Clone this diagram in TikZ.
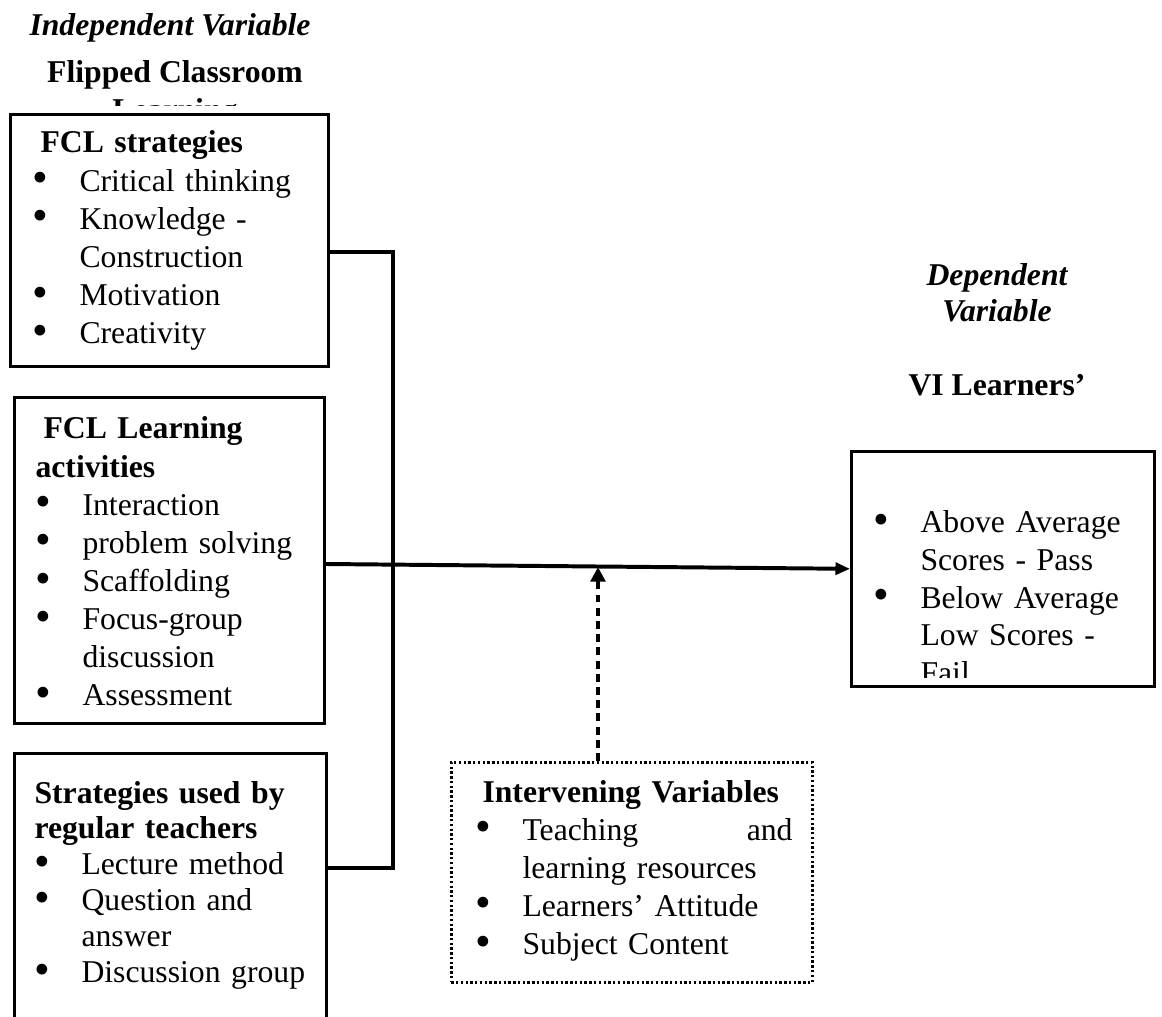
\documentclass[tikz,border=0pt]{standalone}
\usepackage{fontspec}
\setmainfont{Liberation Serif}
\usetikzlibrary{arrows.meta}
\newlength{\pxl}
\setlength{\pxl}{0.3785pt}
\newcommand{\bul}{\makebox[47\pxl][l]{\smash{\raisebox{-0.7pt}{\fontsize{17}{0}\selectfont\textbullet}}}}
\newcommand{\cont}{\hspace*{47\pxl}}

\begin{document}
\begin{tikzpicture}[
  x=0.3785pt, y=-0.3785pt,
  frame/.style={draw, line width=1pt, fill=white, inner sep=0pt, anchor=north west},
  dotframe/.style={frame, dash pattern=on 0.9pt off 0.9pt},
  txt/.style={inner sep=0pt, anchor=base west, align=left, font=\fontsize{12}{14.4}\selectfont},
  head/.style={inner sep=0pt, anchor=base, font=\fontsize{12}{14.4}\selectfont\bfseries},
  headit/.style={inner sep=0pt, anchor=base, font=\fontsize{12}{13.3}\selectfont\bfseries\itshape},
  link/.style={line width=1.5pt},
  modarrow/.style={line width=1.5pt, dash pattern=on 3pt off 2pt, -{Triangle[length=5.5pt,width=5.5pt]}}
]
\useasboundingbox (0,0) rectangle (1162,1017);

% headings
\node[headit] (ivar) at (170,36) {Independent Variable};
\node[head] (fclhead) at (175,83) {Flipped Classroom};
\begin{scope}
  \clip (0,90) rectangle (400,106);
  \node[head] (fclhead2) at (175,121) {Learning};
\end{scope}
\node[headit, align=center, text width=200\pxl] (dvar) at (997,286) {Dependent\\Variable};
\node[head] (vil) at (997,395) {VI Learners’};

% boxes
\node[frame, minimum width=318\pxl, minimum height=252\pxl] (fcl) at (9,113) {};
\node[frame, minimum width=310\pxl, minimum height=326\pxl] (act) at (13,396) {};
\node[frame, minimum width=312\pxl, minimum height=290\pxl] (reg) at (13,752) {};
\node[dotframe, minimum width=361\pxl, minimum height=220\pxl] (interv) at (450,761) {};
\node[frame, minimum width=303\pxl, minimum height=235\pxl] (dep) at (850,450) {};

\node[txt, text width=290\pxl] (fcltxt) at (32,153) {\hspace*{8\pxl}\textbf{FCL strategies}\\
  \bul Critical thinking\\
  \bul Knowledge -\\
  \cont Construction\\
  \bul Motivation\\
  \bul Creativity};

\node[txt, text width=285\pxl] (acttxt) at (35,439) {\hspace*{8\pxl}\textbf{FCL Learning}\\
  \textbf{activities}\\
  \bul Interaction\\
  \bul problem solving\\
  \bul Scaffolding\\
  \bul Focus-group\\
  \cont discussion\\
  \bul Assessment};

\node[txt, text width=285\pxl, font=\fontsize{12}{13.6}\selectfont] (regtxt) at (34,803) {\textbf{Strategies used by}\\
  \textbf{regular teachers}\\
  \bul Lecture method\\
  \bul Question and\\
  \cont answer\\
  \bul Discussion group};

\node[txt, text width=330\pxl] (intervtxt) at (475,802) {\hspace*{7\pxl}\textbf{Intervening Variables}\\
  \bul\makebox[270\pxl][s]{Teaching\hfill and}\\
  \cont learning resources\\
  \bul Learners’ Attitude\\
  \bul Subject Content};

\begin{scope}
  \clip (dep.north west) rectangle (1153,677);
  \node[txt, text width=270\pxl, font=\fontsize{12}{14.2}\selectfont] (deptxt) at (873,533) {\bul Above Average\\
    \cont Scores - Pass\\
    \bul Below Average\\
    \cont Low Scores -\\
    \cont Fail};
\end{scope}

% connectors
\coordinate (jtop) at (393,252);
\coordinate (jmid) at (393,564);
\coordinate (jbot) at (393,868);
\coordinate (mod) at (598,567);
\draw[link] (fcl.east |- jtop) -- (jtop) -- (jbot) -- (reg.east |- jbot);
\draw[link, -{Triangle[length=5.5pt,width=4.5pt]}] (act.east |- jmid) -- (dep.west);
\draw[modarrow] (interv.north -| mod) -- (mod);
\end{tikzpicture}
\end{document}
